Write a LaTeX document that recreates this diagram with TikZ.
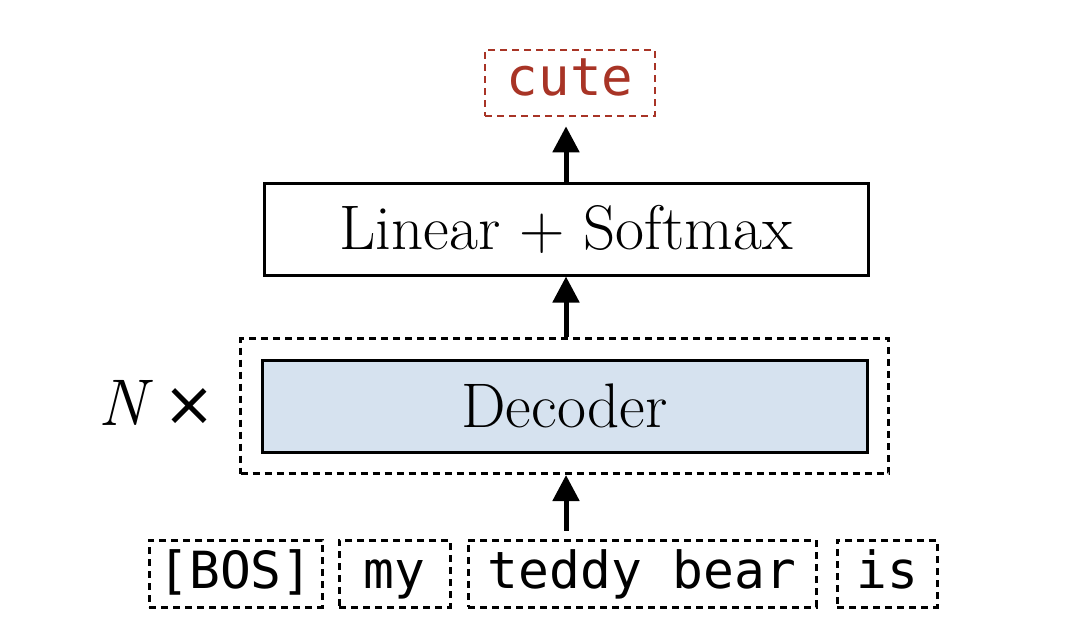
\documentclass[tikz,border=0pt]{standalone}
\usepackage{fontspec}
\setmonofont{DejaVu Sans Mono}
\newfontfamily\timesfont{DejaVu Sans}
\usetikzlibrary{arrows.meta,positioning,fit}
\definecolor{decblue}{RGB}{214,226,239}
\definecolor{cutered}{RGB}{168,52,38}
\tikzset{
  tok/.style={draw, line width=1.5pt, dash pattern=on 3.5pt off 2.5pt,
    minimum height=33.5pt, inner sep=0pt, text height=19pt, text depth=4.5pt,
    font=\fontsize{25.6}{30}\selectfont\ttfamily},
  blk/.style={draw, line width=1.5pt, inner sep=0pt, minimum height=46pt,
    font=\fontsize{31.5}{36}\selectfont},
  arr/.style={-{Triangle[width=13pt,length=13pt]}, line width=2.5pt},
}
\begin{document}
\begin{tikzpicture}[x=0.5pt, y=-0.5pt]
\useasboundingbox (0,0) rectangle (1080,617);
% model blocks
\node[blk, minimum width=302.5pt, fill=decblue] (dec) at (564.5,406) {Decoder};
\node[draw, line width=1.5pt, dash pattern=on 3.5pt off 2.5pt, inner sep=10pt, fit=(dec)] (stack) {};
\node[font=\fontsize{33}{38}\selectfont, anchor=base, inner sep=0pt] (nx) at (157,425) {\textit{N}\,{\timesfont\fontsize{31}{36}\selectfont ×}};
\node[blk, minimum width=302pt] (lin) at (566,229) {Linear + Softmax};
\node[tok, draw=cutered, text=cutered, line width=1.3pt, minimum width=85pt,
  minimum height=33pt, text height=17pt, text depth=5pt, font=\fontsize{26.2}{30}\selectfont\ttfamily] (cute) at (570,83) {cute};
% input tokens
\node[tok, minimum width=86.5pt] (bos) at (235.5,573.5) {[BOS]};
\node[tok, minimum width=55.5pt, right=7pt of bos] (my) {my};
\node[tok, minimum width=174pt, right=7.5pt of my] (teddy) {teddy bear};
\node[tok, minimum width=50pt, right=9pt of teddy] (is) {is};
% arrows
\coordinate (inp) at (lin.south |- teddy.north);
\draw[arr, shorten <=4pt] (inp) -- (inp |- stack.south);
\draw[arr] (lin.south |- stack.north) -- (lin.south);
\draw[arr, shorten >=4.5pt] (lin.north) -- (lin.north |- cute.south);
\end{tikzpicture}
\end{document}
